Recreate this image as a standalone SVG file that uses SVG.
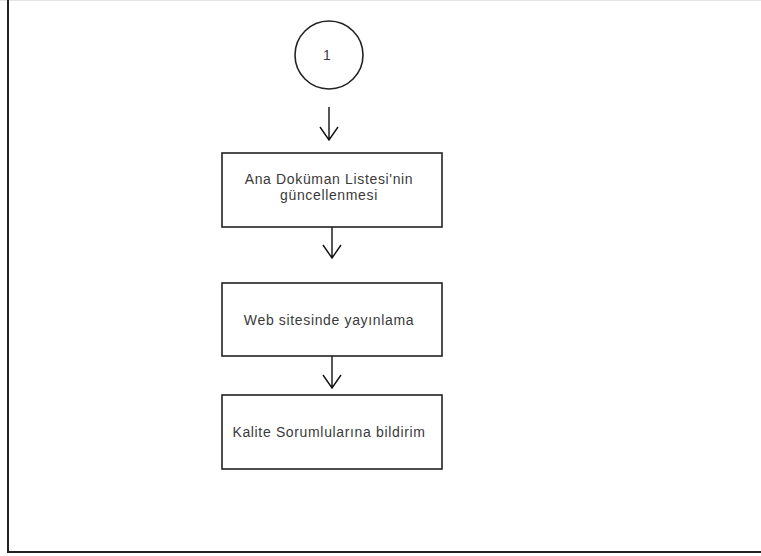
<svg xmlns="http://www.w3.org/2000/svg" width="761" height="556" viewBox="0 0 761 556">
<defs>
<style>
.box{fill:#fff;stroke:#222;stroke-width:1.6}
.txt{font-family:"Liberation Sans",Arial,sans-serif;font-size:14px;letter-spacing:0.65px;fill:#3a3a3a;text-anchor:middle}
.conn{stroke:#111;stroke-width:1.4;fill:none}
</style>
</defs>
<rect x="0" y="0" width="761" height="556" fill="#fff"/>
<g id="frame">
<line x1="0" y1="0.5" x2="761" y2="0.5" stroke="#e6e6e6" stroke-width="1"/>
<line x1="8" y1="0" x2="8" y2="553" stroke="#222" stroke-width="2"/>
<line x1="7" y1="552" x2="761" y2="552" stroke="#222" stroke-width="2"/>
</g>
<g id="connectors">
<path class="conn" d="M329 107 V140 M320 127 L329 140 L338 127"/>
<path class="conn" d="M332 227 V258 M323 245 L332 258 L341 245"/>
<path class="conn" d="M332 356 V388 M323 375 L332 388 L341 375"/>
</g>
<g id="node-start">
<circle cx="329" cy="55" r="34" fill="#fff" stroke="#222" stroke-width="1.6"/>
<text class="txt" x="327" y="60" style="font-size:14px;letter-spacing:0">1</text>
</g>
<g id="node-1">
<rect class="box" x="222" y="153" width="220" height="74"/>
<text class="txt" x="329" y="184">Ana Doküman Listesi'nin</text>
<text class="txt" x="329" y="200">güncellenmesi</text>
</g>
<g id="node-2">
<rect class="box" x="222" y="283" width="220" height="73"/>
<text class="txt" x="329" y="325">Web sitesinde yayınlama</text>
</g>
<g id="node-3">
<rect class="box" x="222" y="395" width="220" height="74"/>
<text class="txt" x="329" y="437">Kalite Sorumlularına bildirim</text>
</g>
</svg>
